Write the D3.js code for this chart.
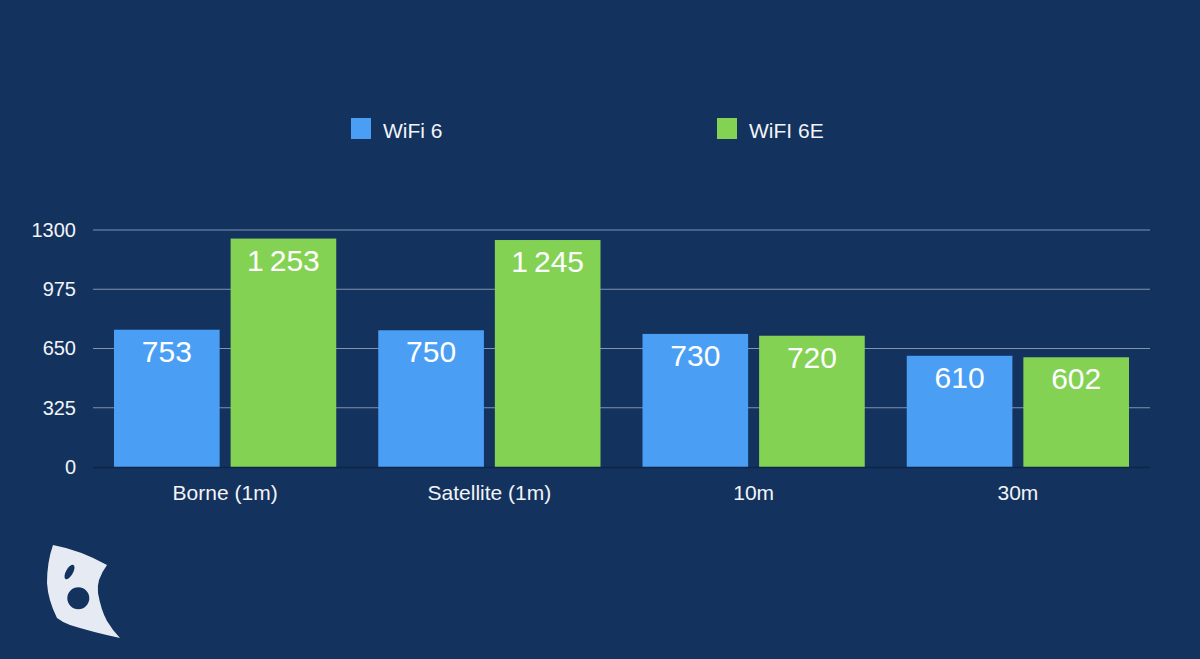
<!DOCTYPE html>
<html><head><meta charset="utf-8">
<script src="https://cdn.jsdelivr.net/npm/d3@7"></script>
<style>
html,body{margin:0;padding:0;background:#13325e;}
svg{display:block;font-family:"Helvetica Neue",Helvetica,"Liberation Sans",Arial,sans-serif;}
</style></head><body>
<svg id="chart" width="1200" height="659"></svg>
<script>
const categories = ["Borne (1m)", "Satellite (1m)", "10m", "30m"];
const seriesNames = ["WiFi 6", "WiFI 6E"];
const wifi6 = [753, 750, 730, 610];
const wifi6e = [1253, 1245, 720, 602];
const yTicks = [0, 325, 650, 975, 1300];
const colors = ["#4a9ff5", "#84d254"];

(function () {
const svg = d3.select("#chart");
const W = 1200, H = 659;
const FF = "\"Helvetica Neue\",Helvetica,\"Liberation Sans\",Arial,sans-serif";
svg.append("rect").attr("width", W).attr("height", H).attr("fill", "#13325e");

const pLeft = 93, pRight = 1150, pTop = 230, pBottom = 467;
const x0 = d3.scaleBand().domain(categories).range([pLeft, pRight]).padding(0);
const x1 = d3.scaleBand().domain(seriesNames).range([21, x0.bandwidth() - 21]).paddingInner(0.094).paddingOuter(0);
const y = d3.scaleLinear().domain([0, 1300]).range([pBottom, pTop]);

const fmt = v => d3.format(",")(v).replace(/,/g, "\u2009");

// gridlines
svg.append("g").selectAll("line").data(yTicks.filter(t => t > 0)).join("line")
  .attr("x1", pLeft).attr("x2", pRight)
  .attr("y1", d => y(d)).attr("y2", d => y(d))
  .attr("stroke", "#7f93b3").attr("stroke-width", 1.2);

// y axis labels
const yAxis = d3.axisLeft(y).tickValues(yTicks).tickSize(0).tickPadding(0).tickFormat(d3.format("d"));
const yg = svg.append("g").attr("transform", `translate(${pLeft - 17},0)`).call(yAxis);
yg.select(".domain").remove();
yg.selectAll("text").attr("fill", "#f2f4f8").attr("font-size", 20).attr("font-family", FF);

// bars
const data = categories.map((c, i) => ({ cat: c, vals: [wifi6[i], wifi6e[i]] }));
const groups = svg.append("g").selectAll("g").data(data).join("g")
  .attr("transform", d => `translate(${x0(d.cat)},0)`);
groups.selectAll("rect").data(d => d.vals.map((v, j) => ({ s: seriesNames[j], v, j }))).join("rect")
  .attr("x", d => x1(d.s)).attr("width", x1.bandwidth())
  .attr("y", d => y(d.v)).attr("height", d => pBottom - y(d.v))
  .attr("fill", d => colors[d.j]);
groups.selectAll("text.val").data(d => d.vals.map((v, j) => ({ s: seriesNames[j], v, j }))).join("text")
  .attr("class", "val")
  .attr("x", d => x1(d.s) + x1.bandwidth() / 2)
  .attr("y", d => y(d.v) + 32)
  .attr("text-anchor", "middle").attr("font-size", 30).attr("fill", "#ffffff")
  .text(d => fmt(d.v));

// baseline
svg.append("line").attr("x1", pLeft).attr("x2", pRight).attr("y1", pBottom + 0.5).attr("y2", pBottom + 0.5)
  .attr("stroke", "#0e2548").attr("stroke-width", 1.5);

// x axis labels
const xAxis = d3.axisBottom(x0).tickSize(0).tickPadding(0);
const xg = svg.append("g").attr("transform", `translate(0,${pBottom})`).call(xAxis);
xg.select(".domain").remove();
xg.selectAll("text").attr("fill", "#f2f4f8").attr("font-size", 21).attr("y", 33).attr("dy", 0)
  .attr("font-family", FF);

// legend
const legendX = [351, 717];
const lg = svg.append("g").selectAll("g").data(seriesNames).join("g")
  .attr("transform", (d, i) => `translate(${legendX[i]},118)`);
lg.append("rect").attr("width", 20).attr("height", 21).attr("fill", (d, i) => colors[i]);
lg.append("text").attr("x", 32).attr("y", 19.5).attr("font-size", 21).attr("fill", "#f2f4f8").text(d => d);

// logo
const logo = svg.append("g");
logo.append("path")
  .attr("d", "M53,545 Q80,550 107,565 Q96,580 98,593 Q101,610 107,621 Q113,631 120,638 Q92,632 70,625 Q62,622 57,618 Q48,600 47,583 Q47,562 53,545 Z " +
    "M89.3,598.3 a11,11 0 1,0 -22,0 a11,11 0 1,0 22,0 Z")
  .attr("fill", "#e6eaf2").attr("fill-rule", "evenodd");
logo.append("ellipse").attr("cx", 69.5).attr("cy", 572).attr("rx", 3.5).attr("ry", 8)
  .attr("transform", "rotate(30,69.5,572)").attr("fill", "#13325e");
})();
</script>
</body></html>
